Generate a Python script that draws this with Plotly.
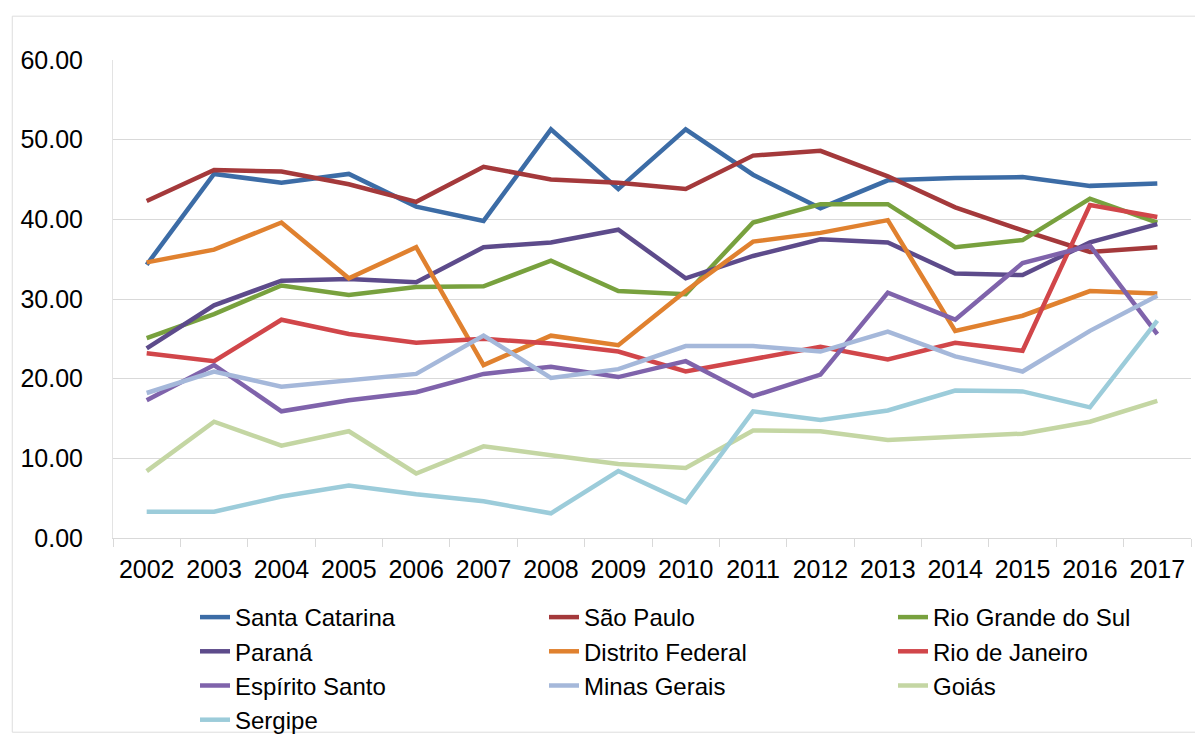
"""Taxa por estado, 2002-2017."""

import plotly.graph_objects as go

YEARS = [str(y) for y in range(2002, 2018)]

santa_catarina = [34.3, 45.7, 44.6, 45.7, 41.6, 39.8, 51.3, 43.8, 51.3, 45.6, 41.4, 44.9, 45.2, 45.3, 44.2, 44.5]
sao_paulo = [42.3, 46.2, 46.0, 44.4, 42.2, 46.6, 45.0, 44.6, 43.8, 48.0, 48.6, 45.4, 41.5, 38.6, 35.9, 36.5]
rio_grande_do_sul = [25.1, 28.1, 31.7, 30.5, 31.5, 31.6, 34.8, 31.0, 30.6, 39.6, 41.9, 41.9, 36.5, 37.4, 42.6, 39.6]
parana = [23.8, 29.2, 32.3, 32.5, 32.1, 36.5, 37.1, 38.7, 32.6, 35.4, 37.5, 37.1, 33.2, 33.0, 37.1, 39.4]
distrito_federal = [34.6, 36.2, 39.6, 32.6, 36.5, 21.7, 25.4, 24.2, 31.0, 37.2, 38.3, 39.9, 26.0, 27.9, 31.0, 30.7]
rio_de_janeiro = [23.2, 22.2, 27.4, 25.6, 24.5, 25.0, 24.4, 23.4, 20.9, 22.5, 24.0, 22.4, 24.5, 23.5, 41.8, 40.3]
espirito_santo = [17.3, 21.7, 15.9, 17.3, 18.3, 20.6, 21.5, 20.2, 22.2, 17.8, 20.5, 30.8, 27.4, 34.5, 36.7, 25.6]
minas_gerais = [18.2, 20.9, 19.0, 19.8, 20.6, 25.4, 20.1, 21.2, 24.1, 24.1, 23.4, 25.9, 22.8, 20.9, 26.0, 30.4]
goias = [8.4, 14.6, 11.6, 13.4, 8.1, 11.5, 10.4, 9.3, 8.8, 13.5, 13.4, 12.3, 12.7, 13.1, 14.6, 17.2]
sergipe = [3.3, 3.3, 5.2, 6.6, 5.5, 4.6, 3.1, 8.4, 4.5, 15.9, 14.8, 16.0, 18.5, 18.4, 16.4, 27.3]

SERIES = [
    ("Santa Catarina", santa_catarina, "#3C6CA6"),
    ("São Paulo", sao_paulo, "#A4393B"),
    ("Rio Grande do Sul", rio_grande_do_sul, "#78A13E"),
    ("Paraná", parana, "#5D4B8B"),
    ("Distrito Federal", distrito_federal, "#E0812F"),
    ("Rio de Janeiro", rio_de_janeiro, "#D1464A"),
    ("Espírito Santo", espirito_santo, "#7F63AB"),
    ("Minas Gerais", minas_gerais, "#A5B8DA"),
    ("Goiás", goias, "#C4D6A3"),
    ("Sergipe", sergipe, "#9CCCDA"),
]

FONT = "Liberation Sans, Arial, sans-serif"
# the page body adds an 8px offset, so the figure is a bit smaller than the window
W, H = 1195, 730
ML, MR, MT, MB = 102, 12, 52, 198
pw, ph = W - ML - MR, H - MT - MB

fig = go.Figure()
for name, values, color in SERIES:
    fig.add_trace(
        go.Scatter(
            x=YEARS,
            y=values,
            name=name,
            mode="lines",
            line=dict(color=color, width=4.5),
        )
    )

# thin frame round the whole chart (Excel chart area border)
fig.add_shape(
    type="rect",
    xref="paper",
    yref="paper",
    x0=(1 - ML) / pw,
    x1=(1189 - ML) / pw,
    y0=(H - MB - 727) / ph,
    y1=(H - MB - 8) / ph,
    line=dict(color="#DDDDDD", width=1),
    layer="below",
)

fig.update_layout(
    width=W,
    height=H,
    margin=dict(l=ML, r=MR, t=MT, b=MB),
    paper_bgcolor="white",
    plot_bgcolor="white",
    font=dict(family=FONT, size=25, color="black"),
    showlegend=True,
    legend=dict(
        orientation="h",
        xref="container",
        yref="container",
        x=187 / W,
        y=1 - 587 / H,
        xanchor="left",
        yanchor="top",
        entrywidth=304,
        bgcolor="rgba(0,0,0,0)",
        font=dict(family=FONT, size=24, color="black"),
        traceorder="normal",
    ),
)
fig.update_xaxes(
    type="category",
    showgrid=False,
    showline=True,
    linecolor="#D9D9D9",
    linewidth=1,
    ticks="outside",
    tickson="boundaries",
    ticklen=8,
    tickcolor="#D9D9D9",
    tickfont=dict(size=25),
    ticklabelstandoff=9,
    range=[-0.5, 15.5],
)
fig.update_yaxes(
    range=[0, 60],
    dtick=10,
    tickformat=".2f",
    showgrid=True,
    gridcolor="#D9D9D9",
    gridwidth=1,
    zeroline=False,
    showline=True,
    linecolor="#E3E3E3",
    linewidth=1,
    ticks="",
    ticklabelstandoff=24,
    tickfont=dict(size=25),
)

fig.write_html("out.html")
